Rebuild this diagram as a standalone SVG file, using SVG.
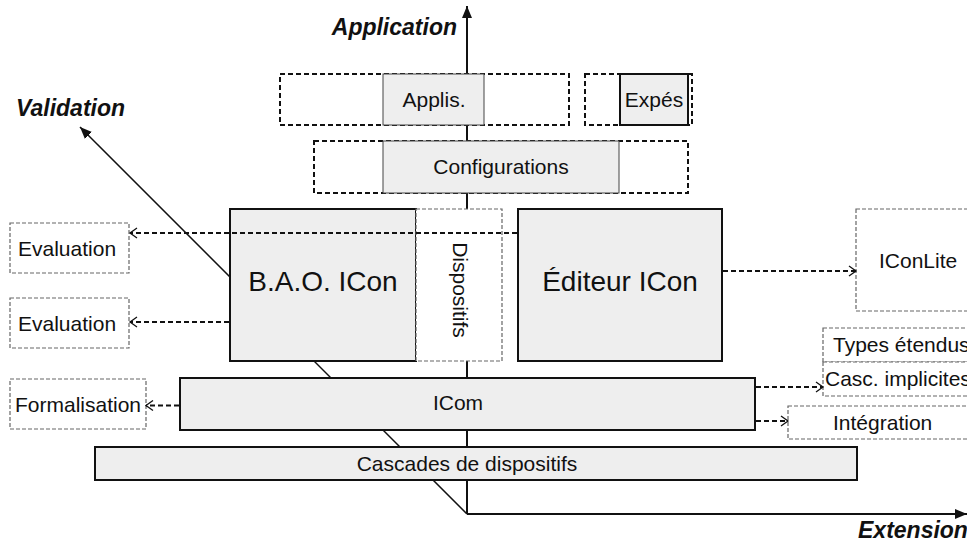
<svg xmlns="http://www.w3.org/2000/svg" width="967" height="543" viewBox="0 0 967 543">
<defs>
<style>
text{font-family:"Liberation Sans",Arial,Helvetica,sans-serif;fill:#111;}
.lbl{font-size:21px;}
.big{font-size:28px;}
.axislbl{font-size:23px;font-weight:bold;font-style:italic;}
.solid{fill:#eeeeee;stroke:#111;stroke-width:2;}
.thin{fill:#eeeeee;stroke:#444;stroke-width:1;}
.outer{fill:none;stroke:#111;stroke-width:2;stroke-dasharray:5,3;}
.gray{fill:#fff;stroke:#666;stroke-width:1.2;stroke-dasharray:4,2;}
.axis{fill:none;stroke:#111;stroke-width:2;}
.diag{fill:none;stroke:#111;stroke-width:1.5;}
.conn{fill:none;stroke:#111;stroke-width:1.8;stroke-dasharray:5,3;marker-end:url(#open);}
</style>
<marker id="tri" markerUnits="userSpaceOnUse" markerWidth="14" markerHeight="10" refX="12" refY="5" orient="auto">
<path d="M0,0 L12,5 L0,10 z" fill="#111"/>
</marker>
<marker id="open" markerUnits="userSpaceOnUse" markerWidth="10" markerHeight="12" refX="8" refY="6" orient="auto">
<path d="M1,1 L8,6 L1,11" fill="none" stroke="#111" stroke-width="1.3"/>
</marker>
</defs>
<rect width="967" height="543" fill="#fff"/>

<g id="axes">
<line class="axis" x1="467" y1="514" x2="467" y2="6" marker-end="url(#tri)"/>
<line class="axis" x1="467" y1="514" x2="967" y2="514" marker-end="url(#tri)"/>
<line class="diag" x1="467" y1="514" x2="80" y2="127" marker-end="url(#tri)"/>
<text class="axislbl" x="457" y="35" text-anchor="end">Application</text>
<text class="axislbl" x="16" y="116">Validation</text>
<text class="axislbl" x="858" y="538">Extension</text>
</g>

<g id="appli-layer">
<rect class="outer" x="280" y="74" width="289" height="51"/>
</g>
<g id="applis">
<rect class="thin" x="383" y="74" width="101" height="51"/>
<text class="lbl" x="434" y="107" text-anchor="middle">Applis.</text>
</g>
<g id="expes-layer">
<rect class="outer" x="585" y="74" width="107" height="51"/>
</g>
<g id="expes">
<rect class="solid" x="620" y="74" width="68" height="51"/>
<text class="lbl" x="654" y="107" text-anchor="middle">Expés</text>
</g>
<g id="config-layer">
<rect class="outer" x="314" y="141" width="374" height="52"/>
</g>
<g id="configurations">
<rect class="thin" x="383" y="141" width="236" height="52"/>
<text class="lbl" x="501" y="174" text-anchor="middle">Configurations</text>
</g>

<g id="bao">
<rect class="solid" x="230" y="209" width="186" height="152"/>
<text class="big" x="323" y="291" text-anchor="middle">B.A.O. ICon</text>
</g>
<g id="dispositifs">
<rect class="gray" x="416" y="209" width="86" height="152"/>
<text class="lbl" transform="translate(453,290) rotate(90)" text-anchor="middle">Dispositifs</text>
</g>
<g id="editeur">
<rect class="solid" x="518" y="209" width="204" height="152"/>
<text class="big" x="620" y="291" text-anchor="middle">Éditeur ICon</text>
</g>
<g id="iconlite">
<rect class="gray" x="856" y="209" width="125" height="102"/>
<text class="lbl" x="879" y="268">IConLite</text>
</g>
<g id="evaluation1">
<rect class="gray" x="10" y="223" width="119" height="50"/>
<text class="lbl" x="18" y="256">Evaluation</text>
</g>
<g id="evaluation2">
<rect class="gray" x="10" y="298" width="119" height="50"/>
<text class="lbl" x="18" y="331">Evaluation</text>
</g>
<g id="types">
<rect class="gray" x="823" y="328" width="160" height="34"/>
<text class="lbl" x="833" y="352">Types étendus</text>
</g>
<g id="casc">
<rect class="gray" x="823" y="362" width="160" height="34"/>
<text class="lbl" x="825" y="386">Casc. implicites</text>
</g>
<g id="icom">
<rect class="solid" x="180" y="378" width="575" height="52"/>
<text class="lbl" x="458" y="410" text-anchor="middle">ICom</text>
</g>
<g id="formalisation">
<rect class="gray" x="10" y="379" width="136" height="50"/>
<text class="lbl" x="15" y="412">Formalisation</text>
</g>
<g id="integration">
<rect class="gray" x="788" y="406" width="190" height="33"/>
<text class="lbl" x="833" y="430">Intégration</text>
</g>
<g id="cascades">
<rect class="solid" x="95" y="447" width="762" height="33"/>
<text class="lbl" x="467" y="471" text-anchor="middle">Cascades de dispositifs</text>
</g>

<g id="connectors">
<line class="conn" x1="517" y1="233" x2="130" y2="233"/>
<line class="conn" x1="229" y1="322" x2="130" y2="322"/>
<line class="conn" x1="723" y1="271" x2="856" y2="271"/>
<line class="conn" x1="179" y1="405.5" x2="146" y2="405.5"/>
<line class="conn" x1="756" y1="387" x2="823" y2="387"/>
<line class="conn" x1="756" y1="421" x2="788" y2="421"/>
</g>
</svg>
